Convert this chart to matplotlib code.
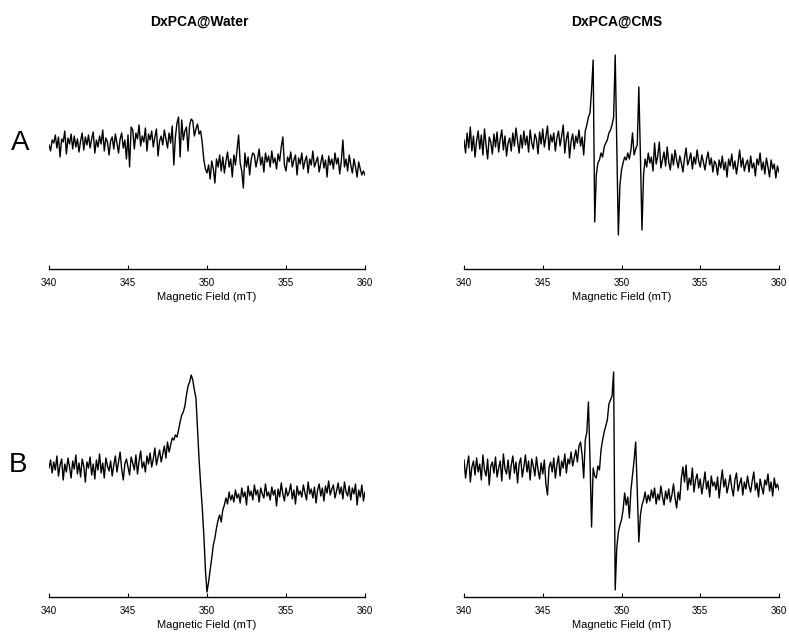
import numpy as np
import matplotlib
matplotlib.use("Agg")
import matplotlib.pyplot as plt

plt.rcParams["font.family"] = ["Liberation Sans", "DejaVu Sans"]

# magnetic field sweep (mT), one reading every 0.1 mT
field = np.linspace(340, 360, 201)

# EPR intensity (a.u.)
water_a = [
    0, -6, 5, 2, 10, -3, 8, -12, 6, 3,
    14, -9, 7, 1, 11, -4, 9, -2, 6, -7,
    4, 12, -5, 8, 0, 10, -3, 6, 13, -8,
    5, -2, 9, 1, 15, -6, 7, 3, -10, 4,
    8, -4, 11, 2, -8, 6, 12, -3, 5, -14,
    10, -22, 18, 15, -4, 12, 6, 20, -1, 9,
    3, 17, -6, 11, 5, 14, -2, 8, 16, -11,
    4, 9, 0, 15, 6, -3, 12, 2, 19, -20,
    8, 22, 28, -12, 25, 5, 14, 18, -6, 20,
    26, 24, 9, 16, 21, 11, 14, 2, -15, -24,
    -28, -20, -34, -16, -24, -38, -14, -22, -10, -26,
    -12, -28, -16, -7, -22, -14, -32, -10, -20, -5,
    10, -18, -26, -43, -8, -22, -12, -30, -14, -8,
    -10, -22, -14, -4, -20, -12, -27, -8, -17, -11,
    -22, -6, -18, -13, -24, -9, -16, -2, 8, -20,
    -26, -12, -17, -7, -22, -15, -10, -30, -13, -19,
    -8, -24, -16, -11, -28, -14, -20, -6, -22, -17,
    -12, -27, -18, -10, -23, -15, -32, -11, -20, -14,
    -24, -8, -19, -13, -29, -16, 5, -22, -14, -26,
    -10, -20, -28, -14, -22, -32, -17, -24, -30, -26, -30,
]

cms_a = [
    5, -8, 12, -3, 18, -6, 9, -12, 4, 14,
    -4, 10, -10, 16, 0, -14, 8, 3, -9, 11,
    -2, 13, -7, 6, 15, -5, 9, -11, 2, 7,
    -6, 12, -1, 17, 4, -8, 10, -3, 14, 0,
    9, -7, 15, 2, -4, 11, 6, -9, 13, 1,
    16, -2, 8, 19, -5, 10, 3, 12, -6, 7,
    14, -1, 9, 20, -8, 6, 13, -13, 4, 11,
    -4, 9, 2, 15, -1, 8, -10, 14, 20, 28,
    32, 55, 85, -77, -30, -18, -15, -8, -12, -2,
    2, 5, 12, 15, 20, 28, 90, 0, -90, -40,
    -25, -18, -12, -15, -8, -14, -5, 12, -10, -4,
    0, 58, -10, -85, -30, -14, -22, -8, -18, -12,
    -26, 2, -19, -11, 3, -23, -15, -7, -21, -2,
    -17, -25, -9, -20, -5, -15, -23, -11, -18, -27,
    -13, -3, -20, -15, -8, -24, -12, -19, -5, -16,
    -22, -10, -17, -25, -14, -7, -20, -13, -27, -16,
    -19, -30, -15, -23, -11, -25, -17, -32, -14, -21,
    -9, -24, -16, -29, -18, -5, -22, -13, -26, -19,
    -15, -27, -11, -23, -18, -31, -14, -20, -8, -25,
    -17, -29, -13, -22, -32, -15, -24, -19, -33, -21, -27,
]

water_b = [
    2, 10, -3, 8, 0, 14, -6, 5, 11, -10,
    6, -2, 12, 3, -8, 9, 1, 15, -4, 7,
    -7, 11, 4, -12, 8, 2, 13, -5, 6, -9,
    10, 0, 16, -3, 7, -8, 12, 4, -1, 9,
    -6, 5, 14, -2, 8, 18, 1, -10, 6, 11,
    3, -5, 13, 7, 0, 15, -4, 9, 19, 2,
    8, -2, 14, 6, 17, 3, 11, 22, 5, 13,
    20, 8, 16, 24, 12, 28, 18, 25, 32, 30,
    35, 33, 40, 48, 55, 58, 64, 75, 84, 88,
    95, 90, 80, 72, 40, 10, -15, -38, -65, -100,
    -122, -112, -100, -88, -75, -68, -58, -50, -45, -52,
    -40, -35, -28, -34, -22, -30, -25, -32, -20, -28,
    -24, -33, -18, -27, -22, -35, -16, -26, -21, -30,
    -15, -25, -20, -32, -18, -24, -28, -14, -26, -22,
    -30, -17, -25, -20, -36, -19, -27, -13, -24, -31,
    -18, -26, -22, -14, -29, -20, -34, -16, -25, -21,
    -27, -15, -23, -30, -12, -24, -19, -28, -17, -33,
    -20, -14, -26, -18, -31, -16, -23, -11, -25, -19,
    -15, -28, -21, -13, -24, -17, -29, -12, -22, -26,
    -16, -30, -18, -24, -14, -35, -20, -27, -15, -31, -22,
]

cms_b = [
    10, -8, 5, 14, -12, 3, 9, -5, 12, -2,
    6, -10, 15, 0, -6, 11, -15, 4, 8, -3,
    13, -7, 2, 9, -11, 16, 1, -4, 10, -9,
    5, 14, -3, 8, -13, 6, 12, -7, 3, 15,
    -2, 9, -10, 11, 4, -6, 13, 0, -9, 7,
    -4, 10, -14, -25, 3, 8, -2, 12, -8, 5,
    14, -6, 9, 2, 16, -3, 11, 6, 18, 4,
    12, 20, 8, 24, 28, 15, -8, 30, 38, 68,
    10, -57, 2, -6, -8, 4, 0, 20, 30, 38,
    44, 50, 66, 70, 74, 98, -120, -78, -62, -55,
    -50, -40, -23, -35, -27, -48, -20, -5, 10, 28,
    -20, -72, -45, -35, -30, -22, -33, -25, -31, -20,
    -28, -18, -34, -24, -30, -16, -27, -35, -21, -29,
    -19, -32, -25, -14, -28, -38, -22, -30, -8, 3,
    -12, 5, -20, -8, -15, 2, -22, -10, -4, -18,
    -9, -24, -14, -2, -19, -11, -27, -6, -16, -12,
    -20, -7, -28, -13, 0, -17, -9, -23, -15, -5,
    -18, -26, -10, -3, -21, -14, -8, -25, -12, -19,
    -6, -16, -22, -11, -2, -20, -13, -27, -9, -17,
    -24, -10, -15, -4, -21, -12, -26, -8, -18, -14, -20,
]

col_titles = ["DxPCA@Water", "DxPCA@CMS"]
row_labels = ["A", "B"]
xticks = [340, 345, 350, 355, 360]

W, H = 789, 633
fig = plt.figure(figsize=(W / 100, H / 100), dpi=100)


def rect(x0, x1, y_axis, y_top):
    """pixel box -> figure fraction"""
    return [x0 / W, 1 - y_axis / H, (x1 - x0) / W, (y_axis - y_top) / H]


def spectrum(box, values, ylim):
    ax = fig.add_axes(box)
    ax.plot(field, values, color="black", lw=1.0)
    ax.set_xlim(340, 360)
    ax.set_ylim(*ylim)
    for side in ["top", "right", "left"]:
        ax.spines[side].set_visible(False)
    ax.spines["bottom"].set_linewidth(1.0)
    ax.set_yticks([])
    ax.set_xticks(xticks)
    ax.tick_params(axis="x", direction="in", length=3, width=0.8,
                   labelsize=7, pad=6.5)
    ax.set_xlabel("Magnetic Field (mT)", fontsize=8, labelpad=2.5)
    return ax


spectrum(rect(49, 365, 269, 45), water_a, (-124, 100))
spectrum(rect(464, 779, 269, 45), cms_a, (-124, 100))
spectrum(rect(49, 365, 597, 368), water_b, (-127, 102))
spectrum(rect(464, 779, 597, 368), cms_b, (-127, 102))

fig.text(199 / W, 1 - 22 / H, col_titles[0], ha="center", va="center",
         fontsize=10, fontweight="bold")
fig.text(617 / W, 1 - 22 / H, col_titles[1], ha="center", va="center",
         fontsize=10, fontweight="bold")
fig.text(20 / W, 1 - 143 / H, row_labels[0], ha="center", va="center",
         fontsize=20)
fig.text(18 / W, 1 - 465 / H, row_labels[1], ha="center", va="center",
         fontsize=20)

fig.savefig("out.png", dpi=100)
